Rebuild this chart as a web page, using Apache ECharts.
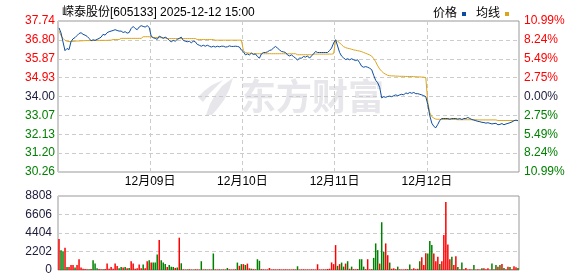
<!DOCTYPE html>
<html><head><meta charset="utf-8">
<script src="https://cdn.jsdelivr.net/npm/echarts@6/dist/echarts.min.js"></script>
<style>html,body{margin:0;padding:0;background:#fff}#c{width:578px;height:276px}</style>
</head><body><div id="c"></div>
<script>
// ---- data ----
const titleText = '嵘泰股份[605133] 2025-12-12 15:00';
const dayLabels = ['12月08日','12月09日','12月10日','12月11日','12月12日'];
const priceTicks = ['30.26','31.20','32.13','33.07','34.00','34.93','35.87','36.80','37.74'];
const pctTicks = ['10.99%','8.24%','5.49%','2.75%','0.00%','2.75%','5.49%','8.24%','10.99%'];
const volTicks = ['0','2202','4404','6606','8808'];

const price_1208 = [37.40,37.15,36.70,36.27,36.38,36.32,36.72,36.86,36.92,37.02,37.12,37.16,37.08,37.04,36.98,36.88,36.76,36.81,36.78,36.83,36.88,36.94,37.08,37.04,37.16,37.21,37.24,37.27,37.31,37.27,37.24,37.24,37.17,37.21,37.14,37.17,37.37,37.47,37.37,37.31,37.44,37.51,37.47,37.44,37.51,37.42];
const price_1209 = [36.99,36.91,36.88,36.83,36.99,36.94,36.88,36.94,36.88,36.78,36.71,36.78,36.74,36.83,36.88,36.94,36.78,36.74,36.71,36.74,36.66,36.74,36.71,36.58,36.54,36.49,36.54,36.49,36.54,36.49,36.45,36.49,36.45,36.49,36.46,36.49,36.49,36.45,36.46,36.51,36.48,36.48,36.49,36.48,36.45,36.30];
const price_1210 = [36.22,36.06,36.11,36.06,36.15,36.08,36.11,35.98,35.90,36.11,36.18,36.18,36.21,36.28,36.31,36.40,36.48,36.40,36.31,36.23,36.21,36.18,36.06,36.01,36.06,35.98,35.90,35.81,35.90,35.90,35.98,35.95,36.01,35.90,36.01,36.11,36.23,36.18,36.18,36.18,36.18,36.18,36.18,36.28,36.40,36.65];
const price_1211 = [36.81,36.50,36.18,36.00,35.91,35.83,35.87,35.82,35.87,35.82,35.78,35.82,35.67,35.50,35.45,35.48,35.45,35.40,35.33,35.05,34.80,34.68,34.45,33.93,33.99,33.96,34.00,34.02,33.99,34.04,34.08,34.04,34.08,34.11,34.08,34.18,34.14,34.20,34.16,34.20,34.14,34.14,34.11,34.08,34.04,33.99];
const price_1212 = [33.60,33.05,32.68,32.52,32.45,32.62,32.82,32.91,32.91,32.91,32.91,32.88,32.91,32.91,32.91,32.88,32.91,32.86,32.91,32.91,32.96,32.91,32.86,32.83,32.80,32.77,32.75,32.72,32.71,32.68,32.70,32.67,32.64,32.66,32.67,32.60,32.62,32.66,32.60,32.64,32.67,32.70,32.74,32.80,32.83,32.80];

const avg_1208 = [37.25,37.02,36.88,36.78,36.74,36.72,36.72,36.73,36.74,36.75,36.75,36.76,36.76,36.77,36.77,36.77,36.77,36.77,36.78,36.78,36.78,36.78,36.78,36.78,36.78,36.79,36.79,36.82,36.82,36.82,36.82,36.88,36.88,36.88,36.88,36.88,36.88,36.88,36.88,36.88,36.88,36.88,36.96,36.96,36.96,36.96];
const avg_1209 = [36.95,36.93,36.92,36.92,36.92,36.91,36.91,36.90,36.87,36.87,36.87,36.87,36.87,36.87,36.87,36.87,36.87,36.87,36.87,36.87,36.87,36.87,36.87,36.82,36.82,36.82,36.82,36.82,36.82,36.82,36.82,36.82,36.79,36.79,36.79,36.79,36.79,36.79,36.79,36.79,36.79,36.79,36.79,36.79,36.79,36.79];
const avg_1210 = [36.28,36.17,36.16,36.15,36.14,36.12,36.12,36.12,36.12,36.12,36.12,36.12,36.12,36.12,36.12,36.12,36.12,36.12,36.12,36.12,36.12,36.12,36.12,36.12,36.12,36.12,36.12,36.07,36.07,36.07,36.07,36.07,36.07,36.07,36.07,36.10,36.10,36.10,36.10,36.10,36.10,36.10,36.10,36.10,36.10,36.12];
const avg_1211 = [36.80,36.74,36.66,36.56,36.47,36.42,36.39,36.37,36.34,36.31,36.29,36.27,36.25,36.22,36.18,36.14,36.10,36.06,36.00,35.88,35.72,35.52,35.36,35.25,35.16,35.10,35.05,35.03,35.02,35.02,35.01,35.01,35.00,35.00,35.00,34.99,34.99,34.99,34.99,34.98,34.98,34.97,34.97,34.96,34.96,34.93];
const avg_1212 = [33.70,33.20,33.00,32.93,32.88,32.87,32.87,32.86,32.86,32.86,32.86,32.86,32.86,32.86,32.86,32.85,32.85,32.85,32.85,32.85,32.85,32.85,32.85,32.85,32.85,32.84,32.84,32.84,32.84,32.84,32.84,32.84,32.84,32.84,32.84,32.81,32.81,32.81,32.81,32.81,32.81,32.81,32.81,32.81,32.81,32.81];

// volume per slot: positive = up bar (red), negative = down bar (green)
const vol_1208 = [3684,-2364,-2244,2644,-364,364,600,600,-300,600,1284,300,150,120,100,-90,110,-1164,-760,-200,120,90,-100,110,760,150,364,150,760,480,-200,-364,300,-364,200,-250,1044,760,150,200,640,200,-640,200,1044,-1164];
const vol_1209 = [900,-900,-884,-1844,3564,-1164,-884,-700,364,-600,-400,-364,250,-300,3844,-800,80,60,-70,90,60,-50,80,70,60,-1044,60,80,-60,70,60,-1964,70,60,80,-60,70,60,-240,80,60,70,90,-884,500,-700];
const vol_1210 = [700,-600,760,200,-150,100,80,-1284,-1100,100,80,60,70,240,60,80,70,60,90,60,70,80,60,70,60,80,70,-444,60,70,80,60,70,60,80,70,60,684,70,60,80,70,120,150,900,700];
const vol_1211 = [2964,-500,700,-884,-400,764,-1044,150,-400,100,80,120,-1284,-1284,-400,100,1284,80,100,-1444,-3164,-2364,764,-5684,-2164,3164,1764,-884,150,200,100,-400,80,60,70,100,80,-644,100,200,100,150,-1044,1524,600,2004];
const vol_1212 = [-1964,-3444,-2964,1964,1044,1564,-700,1044,4164,8084,3044,1284,-1564,600,1644,-364,100,-884,80,240,60,80,70,-604,60,80,60,-200,200,80,200,60,-764,100,-600,400,-604,724,-240,80,400,-364,80,444,320,-240];

const priceDays = [price_1208, price_1209, price_1210, price_1211, price_1212];
const avgDays = [avg_1208, avg_1209, avg_1210, avg_1211, avg_1212];
const volDays = [vol_1208, vol_1209, vol_1210, vol_1211, vol_1212];

// ---- styling ----
const FONT = "'Liberation Sans', 'Noto Sans CJK SC', sans-serif";
const BLUE = '#0c4ca0', GOLD = '#dca41c', UP = '#ff0000', DOWN = '#008000', DARK = '#1c1c3c';
const WM = '#e6e6eb';
const PMIN = 30.26, PMAX = 37.74, PINT = 0.935;

function toXY(days) {
  const out = [];
  days.forEach((arr, d) => arr.forEach((v, i) => out.push([d + (i + 0.5) / arr.length, v])));
  return out;
}
function toBars(days) {
  const out = [];
  days.forEach((arr, d) => arr.forEach((v, i) => out.push({
    value: [d + (i + 0.5) / arr.length, Math.abs(v)],
    itemStyle: { color: v >= 0 ? UP : DOWN }
  })));
  return out;
}
function tickIdx(v) { return Math.round((parseFloat(v) - PMIN) / PINT); }
function sideColor(v) { const k = tickIdx(v); return k > 4 ? UP : (k < 4 ? DOWN : DARK); }

const dash = { color: '#cccccc', type: [4, 3], width: 1 };
const chart = echarts.init(document.getElementById('c'), null, { renderer: 'canvas' });
chart.setOption({
  animation: false,
  textStyle: { fontFamily: FONT },
  title: { text: titleText, left: 57, top: 2, textStyle: { fontSize: 12, fontWeight: 'normal', color: '#000', fontFamily: FONT } },
  legend: {
    right: 64, top: 3, icon: 'rect', itemWidth: 4, itemHeight: 4, itemGap: 10, align: 'right',
    selectedMode: false, textStyle: { fontSize: 12, color: '#000', fontFamily: FONT },
    data: ['价格', '均线']
  },
  graphic: [
    { type: 'text', x: 240, y: 78, z: -10, style: { text: '东方财富', fill: WM, font: "bold 36px 'Noto Sans CJK SC'" } },
    { type: 'polygon', z: -10, shape: { points: [[206,115],[210,104],[215,95],[222,86],[233,78],[229,90],[224,100],[218,108],[212,115]] }, style: { fill: WM } },
    { type: 'polygon', z: -10, shape: { points: [[198,97],[204,91],[212,85],[223,80],[215,88],[209,94],[203,102]] }, style: { fill: WM } }
  ],
  grid: [
    { left: 58, top: 21, right: 59, height: 151, show: true, borderColor: '#999', borderWidth: 1, outerBoundsMode: 'none' },
    { left: 58, top: 196, right: 59, height: 74, show: true, borderColor: '#999', borderWidth: 1, outerBoundsMode: 'none' }
  ],
  xAxis: [
    { type: 'value', gridIndex: 0, min: 0, max: 5, interval: 1,
      axisLine: { show: false }, axisTick: { show: false },
      axisLabel: { margin: 4, fontSize: 12, color: '#000', fontFamily: FONT,
        formatter: v => (v > 0 && v < 5) ? dayLabels[v] : '' },
      splitLine: { show: true, lineStyle: dash } },
    { type: 'value', gridIndex: 1, min: 0, max: 5, interval: 1,
      axisLine: { show: false }, axisTick: { show: false }, axisLabel: { show: false }, splitLine: { show: false } }
  ],
  yAxis: [
    { type: 'value', gridIndex: 0, min: PMIN, max: PMAX, interval: PINT, position: 'left',
      axisLine: { show: false }, axisTick: { show: false }, splitLine: { show: true, lineStyle: dash },
      axisLabel: { margin: 3, fontSize: 12, fontFamily: FONT, formatter: v => priceTicks[tickIdx(v)], color: v => sideColor(v) } },
    { type: 'value', gridIndex: 0, min: PMIN, max: PMAX, interval: PINT, position: 'right',
      axisLine: { show: false }, axisTick: { show: false }, splitLine: { show: false },
      axisLabel: { margin: 5, fontSize: 12, fontFamily: FONT, formatter: v => pctTicks[tickIdx(v)], color: v => sideColor(v) } },
    { type: 'value', gridIndex: 1, min: 0, max: 8808, interval: 2202, position: 'left',
      axisLine: { show: false }, axisTick: { show: false }, splitLine: { show: true, lineStyle: dash },
      axisLabel: { margin: 6, fontSize: 12, fontFamily: FONT, color: DARK, formatter: v => volTicks[Math.round(v / 2202)] } }
  ],
  series: [
    { name: '均线', type: 'line', xAxisIndex: 0, yAxisIndex: 0, data: toXY(avgDays), showSymbol: false,
      lineStyle: { color: GOLD, width: 1 }, itemStyle: { color: GOLD }, z: 3 },
    { name: '价格', type: 'line', xAxisIndex: 0, yAxisIndex: 0, data: toXY(priceDays), showSymbol: false,
      lineStyle: { color: BLUE, width: 1 }, itemStyle: { color: BLUE }, z: 4 },
    { name: '成交量', type: 'bar', xAxisIndex: 1, yAxisIndex: 2, data: toBars(volDays), barWidth: 1.5, z: 3 }
  ]
});
</script>
</body></html>
